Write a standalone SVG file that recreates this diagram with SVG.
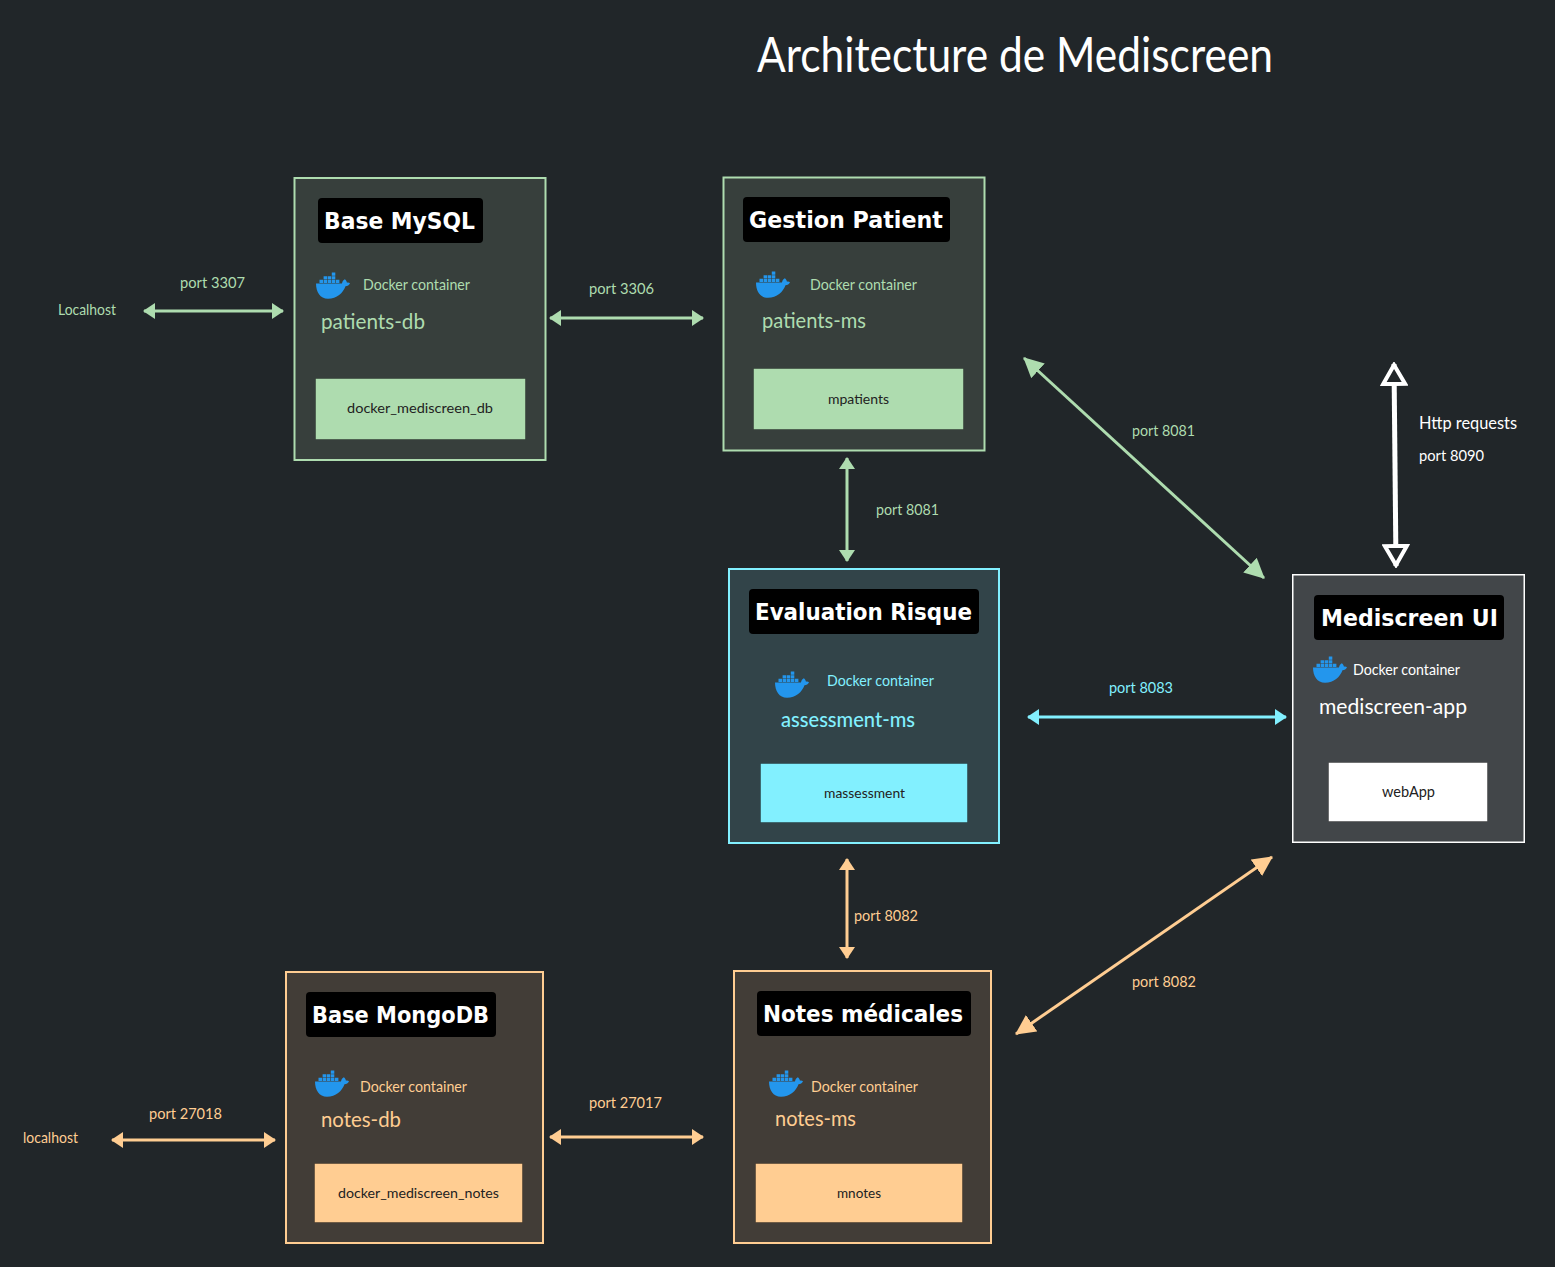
<svg xmlns="http://www.w3.org/2000/svg" width="1555" height="1267" viewBox="0 0 1555 1267">
<style>
text{font-family:"Lato","Liberation Sans",sans-serif}
.t{font-size:15px}
.n{font-size:22px}
.b{font-size:13.5px;fill:#222}
.h{font-family:"DejaVu Sans","Liberation Sans",sans-serif;font-size:23px;font-weight:700;fill:#fff}
.box{stroke-width:2}
.tag{fill:#000}
.inner{stroke:#000;stroke-opacity:.3;stroke-width:1}
.c{fill:none;stroke-width:3}
.g{fill:#aedcaf}.gs{stroke:#aedcaf}
.y{fill:#82f0ff}.ys{stroke:#82f0ff}
.o{fill:#ffcd92}.os{stroke:#ffcd92}
.w{fill:#fff}.ws{stroke:#fff}
</style>
<defs>
<symbol id="whale" viewBox="0 0 34 26" overflow="visible">
<path fill="#2396ed" d="M0 10.500H26C26.300 8.500 27.500 6.800 28.800 6.200C30.200 7.300 30.800 8.700 31 9.700C32 9.400 33.300 9.600 34 10.300C33.200 12.200 31.400 13.200 29.500 13.300C27 20 21 25.800 12 25.800C4 25.800 0 19 0 10.500Z"/>
<path fill="#2396ed" d="M3.500 6.800h3.500v3.100h-3.500zM7.600 6.800h3.500v3.100h-3.500zM11.700 6.800h3.500v3.100h-3.500zM15.800 6.800h3.500v3.100h-3.500zM19.900 6.800h3.500v3.100h-3.500zM7.600 3.200h3.500v3.100h-3.500zM11.700 3.200h3.500v3.100h-3.500zM15.800 3.200h3.500v3.100h-3.500zM15.800 -.4h3.500v3.100h-3.500z"/>
</symbol>
<marker id="ag" viewBox="0 0 12 16" refX="11" refY="8" markerWidth="12" markerHeight="16" markerUnits="userSpaceOnUse" orient="auto-start-reverse"><path class="g" d="M0 0L12 8L0 16Z"/></marker>
<marker id="ay" viewBox="0 0 12 16" refX="11" refY="8" markerWidth="12" markerHeight="16" markerUnits="userSpaceOnUse" orient="auto-start-reverse"><path class="y" d="M0 0L12 8L0 16Z"/></marker>
<marker id="ao" viewBox="0 0 12 16" refX="11" refY="8" markerWidth="12" markerHeight="16" markerUnits="userSpaceOnUse" orient="auto-start-reverse"><path class="o" d="M0 0L12 8L0 16Z"/></marker>
<marker id="agl" viewBox="0 0 20 20" refX="19" refY="10" markerWidth="20" markerHeight="20" markerUnits="userSpaceOnUse" orient="auto-start-reverse"><path class="g" d="M0 0L20 10L0 20Z"/></marker>
<marker id="aol" viewBox="0 0 20 20" refX="19" refY="10" markerWidth="20" markerHeight="20" markerUnits="userSpaceOnUse" orient="auto-start-reverse"><path class="o" d="M0 0L20 10L0 20Z"/></marker>
<marker id="aw" viewBox="0 0 24 28" refX="22" refY="14" markerWidth="24" markerHeight="28" markerUnits="userSpaceOnUse" orient="auto-start-reverse"><path d="M2 3L21 14L2 25Z" fill="#212629" stroke="#fff" stroke-width="4"/></marker>
</defs>
<rect width="1555" height="1267" fill="#212629"/>
<text id="title" x="757" y="72" font-size="48" fill="#fff" textLength="516" lengthAdjust="spacingAndGlyphs">Architecture de Mediscreen</text>

<g id="connectors">
<path class="c gs" d="M144 311H283" marker-start="url(#ag)" marker-end="url(#ag)"/>
<path class="c gs" d="M550 318H703" marker-start="url(#ag)" marker-end="url(#ag)"/>
<path class="c gs" d="M847 458V561" marker-start="url(#ag)" marker-end="url(#ag)"/>
<path class="c gs" d="M1024 358L1264 578" marker-start="url(#agl)" marker-end="url(#agl)"/>
<path class="c ys" d="M1028 717H1286" marker-start="url(#ay)" marker-end="url(#ay)"/>
<path class="c os" d="M847 859V958" marker-start="url(#ao)" marker-end="url(#ao)"/>
<path class="c os" d="M1016 1034L1272 857" marker-start="url(#aol)" marker-end="url(#aol)"/>
<path class="c os" d="M550 1137H703" marker-start="url(#ao)" marker-end="url(#ao)"/>
<path class="c os" d="M112 1140H275" marker-start="url(#ao)" marker-end="url(#ao)"/>
<path d="M1394 364L1396 566" fill="none" stroke="#fff" stroke-width="5" marker-start="url(#aw)" marker-end="url(#aw)"/>
</g>

<g id="labels">
<text class="t g" x="58" y="315" textLength="58" lengthAdjust="spacingAndGlyphs">Localhost</text>
<text class="t g" x="180" y="288" textLength="65" lengthAdjust="spacingAndGlyphs">port 3307</text>
<text class="t g" x="589" y="294" textLength="65" lengthAdjust="spacingAndGlyphs">port 3306</text>
<text class="t g" x="876" y="515" textLength="63" lengthAdjust="spacingAndGlyphs">port 8081</text>
<text class="t g" x="1132" y="436" textLength="63" lengthAdjust="spacingAndGlyphs">port 8081</text>
<text class="t y" x="1109" y="693" textLength="64" lengthAdjust="spacingAndGlyphs">port 8083</text>
<text class="t o" x="854" y="921" textLength="64" lengthAdjust="spacingAndGlyphs">port 8082</text>
<text class="t o" x="1132" y="987" textLength="64" lengthAdjust="spacingAndGlyphs">port 8082</text>
<text class="t o" x="589" y="1108" textLength="73" lengthAdjust="spacingAndGlyphs">port 27017</text>
<text class="t o" x="149" y="1119" textLength="73" lengthAdjust="spacingAndGlyphs">port 27018</text>
<text class="t o" x="23" y="1143" textLength="55" lengthAdjust="spacingAndGlyphs">localhost</text>
<text class="w" x="1419" y="429" font-size="17" textLength="98" lengthAdjust="spacingAndGlyphs">Http requests</text>
<text class="t w" x="1419" y="461" textLength="65" lengthAdjust="spacingAndGlyphs">port 8090</text>
</g>

<g id="base-mysql">
<rect class="box gs" x="294.500" y="178" width="251" height="282" fill="#373f3c"/>
<rect class="tag" x="318" y="198" width="165" height="45" rx="4"/>
<text class="h" x="324" y="229" textLength="151" lengthAdjust="spacingAndGlyphs">Base MySQL</text>
<use href="#whale" x="316" y="273" width="34" height="26"/>
<text class="t g" x="363" y="290" textLength="107" lengthAdjust="spacingAndGlyphs">Docker container</text>
<text class="n g" x="321" y="329" textLength="104" lengthAdjust="spacingAndGlyphs">patients-db</text>
<rect x="315.500" y="378.500" width="210" height="61" class="g inner"/>
<text class="b" x="347" y="413" textLength="146" lengthAdjust="spacingAndGlyphs">docker_mediscreen_db</text>
</g>

<g id="gestion-patient">
<rect class="box gs" x="723.500" y="177.500" width="261" height="273" fill="#373f3c"/>
<rect class="tag" x="743" y="197" width="207" height="45" rx="4"/>
<text class="h" x="749" y="228" textLength="194" lengthAdjust="spacingAndGlyphs">Gestion Patient</text>
<use href="#whale" x="756" y="272" width="34" height="26"/>
<text class="t g" x="810" y="290" textLength="107" lengthAdjust="spacingAndGlyphs">Docker container</text>
<text class="n g" x="762" y="328" textLength="104" lengthAdjust="spacingAndGlyphs">patients-ms</text>
<rect x="753.500" y="368.500" width="210" height="61" class="g inner"/>
<text class="b" x="828" y="404" textLength="61" lengthAdjust="spacingAndGlyphs">mpatients</text>
</g>

<g id="evaluation-risque">
<rect class="box ys" x="729" y="569" width="270" height="274" fill="#324449"/>
<rect class="tag" x="749" y="589" width="230" height="45" rx="4"/>
<text class="h" x="755" y="620" textLength="217" lengthAdjust="spacingAndGlyphs">Evaluation Risque</text>
<use href="#whale" x="775" y="672" width="34" height="26"/>
<text class="t y" x="827" y="686" textLength="107" lengthAdjust="spacingAndGlyphs">Docker container</text>
<text class="n y" x="781" y="727" font-weight="500" textLength="134" lengthAdjust="spacingAndGlyphs">assessment-ms</text>
<rect x="760.500" y="763.500" width="207" height="59" class="y inner"/>
<text class="b" x="824" y="798" textLength="81" lengthAdjust="spacingAndGlyphs">massessment</text>
</g>

<g id="mediscreen-ui">
<rect class="ws" stroke-width="1.500" x="1292.750" y="574.750" width="231.500" height="267.500" fill="#424649"/>
<rect class="tag" x="1314" y="595" width="190" height="45" rx="4"/>
<text class="h" x="1321" y="626" textLength="177" lengthAdjust="spacingAndGlyphs">Mediscreen UI</text>
<use href="#whale" x="1313" y="657" width="34" height="26"/>
<text class="t w" x="1353" y="675" textLength="107" lengthAdjust="spacingAndGlyphs">Docker container</text>
<text class="n w" x="1319" y="714" textLength="148" lengthAdjust="spacingAndGlyphs">mediscreen-app</text>
<rect x="1328.500" y="762.500" width="159" height="59" class="w inner"/>
<text class="b" x="1382" y="797" style="font-size:15px" textLength="53" lengthAdjust="spacingAndGlyphs">webApp</text>
</g>

<g id="base-mongodb">
<rect class="box os" x="286" y="972" width="257" height="271" fill="#423d37"/>
<rect class="tag" x="306" y="992" width="190" height="45" rx="4"/>
<text class="h" x="312" y="1023" textLength="177" lengthAdjust="spacingAndGlyphs">Base MongoDB</text>
<use href="#whale" x="315" y="1071" width="34" height="26"/>
<text class="t o" x="360" y="1092" textLength="107" lengthAdjust="spacingAndGlyphs">Docker container</text>
<text class="n o" x="321" y="1127" textLength="80" lengthAdjust="spacingAndGlyphs">notes-db</text>
<rect x="314.500" y="1163.500" width="208" height="59" class="o inner"/>
<text class="b" x="338" y="1198" textLength="161" lengthAdjust="spacingAndGlyphs">docker_mediscreen_notes</text>
</g>

<g id="notes-medicales">
<rect class="box os" x="734" y="971" width="257" height="272" fill="#423d37"/>
<rect class="tag" x="757" y="991" width="214" height="45" rx="4"/>
<text class="h" x="763" y="1022" textLength="200" lengthAdjust="spacingAndGlyphs">Notes médicales</text>
<use href="#whale" x="769" y="1071" width="34" height="26"/>
<text class="t o" x="811" y="1092" textLength="107" lengthAdjust="spacingAndGlyphs">Docker container</text>
<text class="n o" x="775" y="1126" textLength="81" lengthAdjust="spacingAndGlyphs">notes-ms</text>
<rect x="755.500" y="1163.500" width="207" height="59" class="o inner"/>
<text class="b" x="837" y="1198" textLength="44" lengthAdjust="spacingAndGlyphs">mnotes</text>
</g>
</svg>
